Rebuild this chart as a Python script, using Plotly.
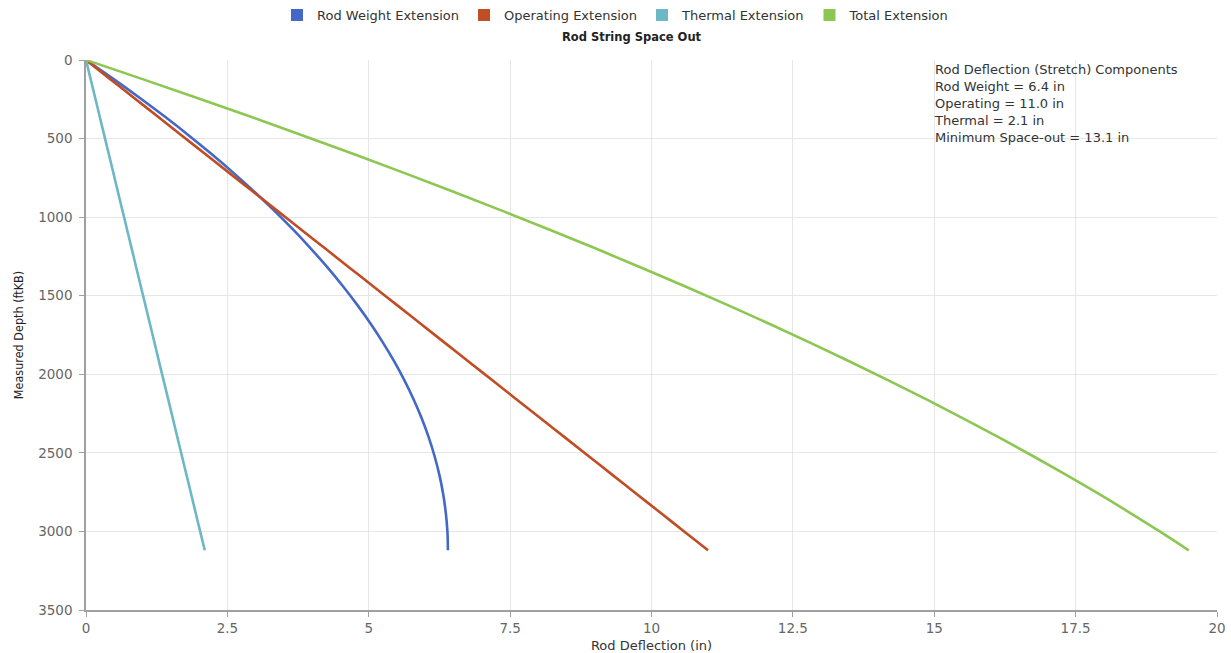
import plotly.graph_objects as go

# Measured depth (ftKB)
depth = [0, 120, 240, 360, 480, 600, 720, 840, 960, 1080, 1200, 1320, 1440, 1560,
         1680, 1800, 1920, 2040, 2160, 2280, 2400, 2520, 2640, 2760, 2880, 3000, 3120]

# Rod deflection (in)
rod_weight = [0, 0.483, 0.947, 1.392, 1.818, 2.225, 2.613, 2.982, 3.333, 3.664, 3.976, 4.270,
              4.544, 4.800, 5.037, 5.254, 5.453, 5.633, 5.794, 5.936, 6.059, 6.163, 6.249,
              6.315, 6.362, 6.391, 6.400]
operating = [0, 0.423, 0.846, 1.269, 1.692, 2.115, 2.538, 2.962, 3.385, 3.808, 4.231, 4.654,
             5.077, 5.500, 5.923, 6.346, 6.769, 7.192, 7.615, 8.038, 8.462, 8.885, 9.308,
             9.731, 10.154, 10.577, 11.000]
thermal = [0, 0.081, 0.162, 0.242, 0.323, 0.404, 0.485, 0.565, 0.646, 0.727, 0.808, 0.888,
           0.969, 1.050, 1.131, 1.212, 1.292, 1.373, 1.454, 1.535, 1.615, 1.696, 1.777,
           1.858, 1.938, 2.019, 2.100]
total = [0, 0.987, 1.955, 2.903, 3.833, 4.744, 5.636, 6.509, 7.364, 8.199, 9.015, 9.812,
         10.590, 11.350, 12.091, 12.812, 13.514, 14.198, 14.863, 15.509, 16.136, 16.744,
         17.334, 17.904, 18.454, 18.987, 19.500]

series_names = ["Rod Weight Extension", "Operating Extension", "Thermal Extension", "Total Extension"]
series_values = [rod_weight, operating, thermal, total]
colors = ["#4468c8", "#c04d24", "#6cb8c6", "#8cc751"]

info_lines = ["Rod Deflection (Stretch) Components",
              "Rod Weight = 6.4 in",
              "Operating = 11.0 in",
              "Thermal = 2.1 in",
              "Minimum Space-out = 13.1 in"]

FONT = "DejaVu Sans, sans-serif"

fig = go.Figure()
for name, vals, col in zip(series_names, series_values, colors):
    fig.add_trace(go.Scatter(x=vals, y=depth, mode="lines", name=name,
                             line=dict(color=col, width=2.6, shape="spline", smoothing=1.0),
                             showlegend=False))
# legend-only entries with square swatches
for name, col in zip(series_names, colors):
    fig.add_trace(go.Scatter(x=[None], y=[None], mode="markers", name=name,
                             marker=dict(symbol="square", size=12, color=col),
                             showlegend=True))

fig.add_annotation(x=0.748, y=1.0, xref="paper", yref="paper",
                   xanchor="left", yanchor="top", text="<br>".join(info_lines),
                   showarrow=False, yshift=0, align="left",
                   font=dict(family=FONT, size=13, color="#333333"))

fig.update_layout(
    width=1231, height=653,
    margin=dict(l=86, r=14, t=60, b=43),
    paper_bgcolor="white", plot_bgcolor="white",
    font=dict(family=FONT, size=13, color="#333333"),
    title=dict(text="<b>Rod String Space Out</b>", x=0.513, xref="container",
               y=0.943, yanchor="middle", font=dict(family=FONT, size=11.5, color="#222222")),
    legend=dict(orientation="h", x=0.5, xanchor="center", xref="container",
                y=0.977, yanchor="middle", yref="container",
                font=dict(family=FONT, size=13, color="#333333"),
                itemwidth=30, tracegroupgap=0),
    xaxis=dict(range=[0, 20], dtick=2.5, tick0=0, showgrid=True, gridcolor="#e6e6e6",
               showline=True, linecolor="#a0a0a0", linewidth=1.5,
               ticks="outside", ticklen=5, tickcolor="#a0a0a0",
               tickfont=dict(family=FONT, size=13.5, color="#666666"),
               zeroline=False, automargin=False,
               title=dict(text="Rod Deflection (in)", standoff=6,
                          font=dict(family=FONT, size=13, color="#333333"))),
    yaxis=dict(range=[3500, 0], dtick=500, tick0=0, showgrid=True, gridcolor="#e6e6e6",
               showline=True, linecolor="#a0a0a0", linewidth=1.5,
               ticks="outside", ticklen=5, tickcolor="#a0a0a0", ticklabelstandoff=4,
               tickfont=dict(family=FONT, size=13.5, color="#666666"),
               zeroline=False, automargin=False,
               title=dict(text="Measured Depth (ftKB)", standoff=12,
                          font=dict(family="DejaVu Sans Condensed, DejaVu Sans, sans-serif",
                                    size=12.5, color="#222222"))),
)

fig.write_html("out.html")
